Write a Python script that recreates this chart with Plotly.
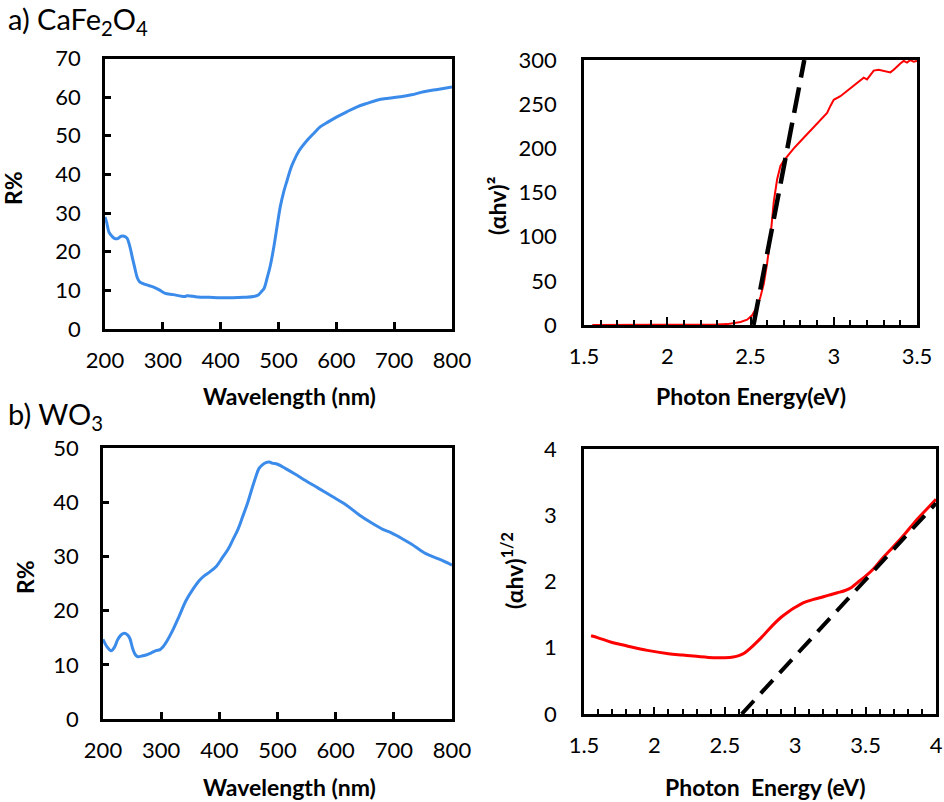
import plotly.graph_objects as go
from plotly.subplots import make_subplots

# a) CaFe2O4 reflectance
wl_a = [200, 203, 207, 212, 217, 222, 228, 233, 238, 243, 248, 252, 256, 260, 265, 272, 283,
        293, 303, 318, 338, 342, 360, 380, 400, 420, 440, 457, 465, 470, 475, 480, 486, 492,
        498, 503, 509, 515, 521, 526, 535, 550, 562, 572, 586, 601, 618, 636, 653, 670, 690,
        711, 730, 751, 775, 800]
r_a = [29, 27.5, 25, 24, 23.4, 23.4, 24, 24, 23.5, 21.3, 18, 15.5, 13.2, 12.2, 11.8, 11.4, 10.9,
       10.2, 9.3, 8.9, 8.4, 8.6, 8.3, 8.2, 8.1, 8.1, 8.2, 8.4, 8.8, 9.6, 10.5, 13, 16.5, 21.3,
       27, 31.6, 35.5, 38.5, 41.5, 43.3, 46, 48.9, 50.8, 52.3, 53.6, 54.9, 56.2, 57.5, 58.4, 59.2,
       59.7, 60.1, 60.6, 61.4, 62, 62.6]

# a) CaFe2O4 Tauc plot (direct)
e_a = [1.55, 1.8, 2.0, 2.2, 2.3, 2.36, 2.40, 2.44, 2.48, 2.51, 2.54, 2.56, 2.58, 2.60, 2.62,
       2.64, 2.66, 2.68, 2.70, 2.72, 2.76, 2.80, 2.84, 2.88, 2.92, 2.96, 2.98, 3.00, 3.04, 3.08,
       3.12, 3.16, 3.18, 3.20, 3.22, 3.24, 3.27, 3.30, 3.32, 3.34, 3.36, 3.38, 3.40, 3.42, 3.44,
       3.46, 3.48, 3.50]
t_a = [0, 0, 0, 0.2, 0.5, 1, 2, 3.5, 6, 11, 21, 32, 47, 70, 100, 140, 165, 180, 186, 191, 200,
       208, 216, 223, 231, 240, 248, 255, 259, 265, 271, 278, 280, 278, 283, 288, 289, 288, 287,
       286, 289, 293, 296, 299, 297, 300, 298, 299]
fit_a_x = [2.518, 2.823]
fit_a_y = [0, 300]

# b) WO3 reflectance
wl_b = [200, 207, 214, 220, 225, 231, 237, 242, 246, 251, 256, 260, 266, 274, 283, 291, 298,
        303, 310, 320, 331, 343, 355, 366, 375, 383, 395, 406, 415, 423, 432, 440, 449, 457,
        463, 468, 474, 480, 486, 491, 500, 514, 530, 548, 570, 595, 618, 640, 660, 681, 695,
        709, 730, 755, 778, 800]
r_b = [14.7, 13.3, 12.6, 13.3, 14.6, 15.5, 15.8, 15.5, 14.9, 13, 11.8, 11.5, 11.6, 11.8, 12.2,
       12.6, 12.8, 13.3, 14.4, 16.4, 19, 21.9, 24, 25.6, 26.5, 27.1, 28.2, 29.9, 31.3, 33, 35,
       37.3, 40, 42.8, 44.8, 46.2, 46.9, 47.3, 47.4, 47.2, 47, 46.2, 45.2, 44, 42.6, 41, 39.5,
       37.7, 36.3, 35, 34.4, 33.6, 32.3, 30.5, 29.5, 28.4]

# b) WO3 Tauc plot (indirect)
e_b = [1.55, 1.6, 1.7, 1.8, 1.95, 2.1, 2.2, 2.3, 2.42, 2.5, 2.56, 2.6, 2.64, 2.68, 2.72, 2.78,
       2.85, 2.9, 2.95, 3.0, 3.06, 3.13, 3.2, 3.25, 3.3, 3.35, 3.4, 3.44, 3.5, 3.56, 3.62, 3.7,
       3.78, 3.85, 3.92, 4.0]
t_b = [1.18, 1.15, 1.08, 1.03, 0.96, 0.91, 0.89, 0.87, 0.85, 0.85, 0.86, 0.88, 0.92, 0.99,
       1.07, 1.2, 1.36, 1.46, 1.54, 1.61, 1.68, 1.73, 1.77, 1.80, 1.83, 1.86, 1.91, 1.98, 2.08,
       2.2, 2.35, 2.53, 2.72, 2.9, 3.06, 3.24]
fit_b_x = [2.62, 4.0]
fit_b_y = [0, 3.18]

BLUE = "#3b8bea"
RED = "#ff0000"
FONT = "Lato"
W, H = 944, 802

fig = make_subplots(rows=2, cols=2)

fig.add_trace(go.Scatter(x=wl_a, y=r_a, mode="lines", line=dict(color=BLUE, width=3, shape="spline")), 1, 1)
fig.add_trace(go.Scatter(x=e_a, y=t_a, mode="lines", line=dict(color=RED, width=2)), 1, 2)
fig.add_trace(go.Scatter(x=fit_a_x, y=fit_a_y, mode="lines",
                         line=dict(color="black", width=4.5, dash="26px,10px")), 1, 2)
fig.add_trace(go.Scatter(x=wl_b, y=r_b, mode="lines", line=dict(color=BLUE, width=3, shape="spline")), 2, 1)
fig.add_trace(go.Scatter(x=e_b, y=t_b, mode="lines", line=dict(color=RED, width=3, shape="spline")), 2, 2)
fig.add_trace(go.Scatter(x=fit_b_x, y=fit_b_y, mode="lines",
                         line=dict(color="black", width=4, dash="18px,10px")), 2, 2)


def px_dom(a, b, total, flip=False):
    if flip:
        return [1 - b / total, 1 - a / total]
    return [a / total, b / total]


tickfont = dict(family=FONT, size=22, color="black")
common = dict(showline=True, linecolor="black", linewidth=2.5, mirror=True, automargin=False,
              showgrid=False, zeroline=False, tickfont=tickfont, tickcolor="black")

# panel a-left
fig.update_xaxes(row=1, col=1, domain=px_dom(105, 452, W), range=[200, 800], dtick=100,
                 ticks="inside", ticklen=7, tickwidth=2.5, ticklabelstandoff=10, **common)
fig.update_yaxes(row=1, col=1, domain=px_dom(58.5, 329, H, True), range=[0, 70], dtick=10,
                 ticks="inside", ticklen=6, tickwidth=2.5, ticklabelstandoff=17, **common)
# panel a-right
fig.update_xaxes(row=1, col=2, domain=px_dom(584, 917, W), range=[1.5, 3.5], dtick=0.5,
                 ticks="inside", ticklen=8, tickwidth=2, ticklabelstandoff=10,
                 minor=dict(dtick=0.1, ticks="inside", ticklen=5, tickwidth=2, tickcolor="black"),
                 **common)
fig.update_yaxes(row=1, col=2, domain=px_dom(60, 325, H, True), range=[0, 300], dtick=50,
                 ticks="", ticklabelstandoff=20, **common)
# panel b-left
fig.update_xaxes(row=2, col=1, domain=px_dom(103, 452, W), range=[200, 800], dtick=100,
                 ticks="inside", ticklen=7, tickwidth=2.5, ticklabelstandoff=10, **common)
fig.update_yaxes(row=2, col=1, domain=px_dom(448, 719, H, True), range=[0, 50], dtick=10,
                 ticks="inside", ticklen=6, tickwidth=2.5, ticklabelstandoff=17, **common)
# panel b-right
fig.update_xaxes(row=2, col=2, domain=px_dom(584, 936, W), range=[1.5, 4], dtick=0.5,
                 ticks="inside", ticklen=7, tickwidth=2, ticklabelstandoff=10,
                 minor=dict(dtick=0.1, ticks="inside", ticklen=5, tickwidth=2, tickcolor="black"),
                 **common)
fig.update_yaxes(row=2, col=2, domain=px_dom(449, 714, H, True), range=[0, 4], dtick=1,
                 ticks="", ticklabelstandoff=20, **common)

bold = dict(family=FONT, size=23, color="black", weight="bold")
big = dict(family=FONT, size=29, color="black")
labels = [
    ("a) CaFe<sub>2</sub>O<sub>4</sub>", 6, 20, 0, big, "left"),
    ("b) WO<sub>3</sub>", 6, 415, 0, big, "left"),
    ("Wavelength (nm)", 289, 396, 0, bold, "center"),
    ("Photon Energy(eV)", 751, 396, 0, bold, "center"),
    ("Wavelength (nm)", 289, 787, 0, bold, "center"),
    ("Photon  Energy (eV)", 765, 787, 0, bold, "center"),
    ("R%", 13, 188, -90, bold, "center"),
    ("(αhv)²", 497, 206, -90, bold, "center"),
    ("R%", 25, 577, -90, bold, "center"),
    ("(αhv)<sup>1/2</sup>", 512, 571, -90, bold, "center"),
]
for text, x, y, ang, font, xa in labels:
    fig.add_annotation(text=text, x=x / W, y=1 - y / H, xref="paper", yref="paper",
                       showarrow=False, textangle=ang, font=font, xanchor=xa, yanchor="middle")

fig.update_layout(width=W, height=H, margin=dict(l=0, r=0, t=0, b=0), showlegend=False,
                  plot_bgcolor="white", paper_bgcolor="white")

# the page's default body margin would shift and clip the figure
fig.write_html("out.html", config={"displayModeBar": False},
               post_script="document.body.style.margin='0';document.body.style.overflow='hidden';")
